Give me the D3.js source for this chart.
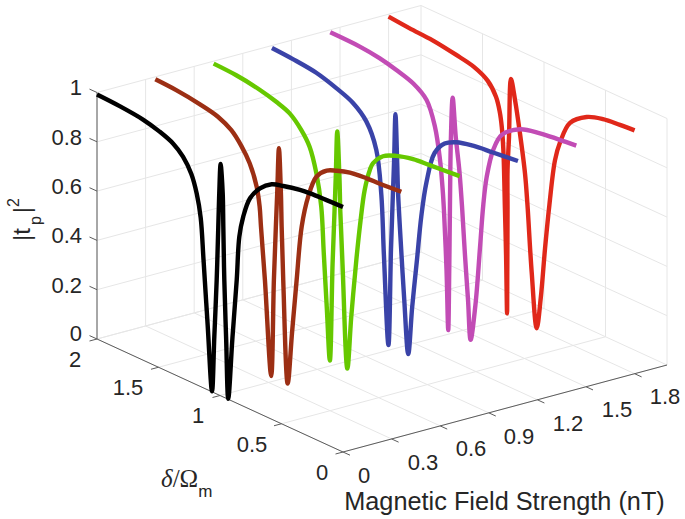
<!DOCTYPE html>
<html><head><meta charset="utf-8">
<script src="https://cdn.jsdelivr.net/npm/d3@7"></script>
<style>html,body{margin:0;padding:0;background:#fff}svg{display:block}text{font-family:"Liberation Sans",Arial,sans-serif;fill:#262626}</style>
</head><body><svg id="c" width="685" height="519"></svg>
<script>
const fieldValues=[0,0.36,0.72,1.08,1.44,1.8];
const seriesColors=["#000000","#9c2f14","#66c800","#3a43a8","#c24cb5","#e0281a"];
const fieldTicks=[0,0.3,0.6,0.9,1.2,1.5,1.8];
const detuningTicks=[0,0.5,1,1.5,2];
const transTicks=[0,0.2,0.4,0.6,0.8,1];

const delta0=[2,1.816,1.626,1.491,1.382,1.301,1.233,1.189,1.157,1.134,1.1,1.065,1.046,1.027,1.014,1.006,.995,.978,.973,.965,.95,.933,.899,.864,.843,.811,.756,.675,.58,.485,.35,.268,0];
const trans0=[.992,.987,.976,.958,.935,.9,.845,.775,.685,.52,.26,.002,.23,.462,.681,.82,.94,.826,.691,.477,.24,.002,.256,.5,.68,.769,.856,.915,.953,.968,.983,.988,.994];

const delta1=[2,1.83,1.64,1.491,1.382,1.301,1.233,1.176,1.152,1.141,1.109,1.058,1.036,1.02,1.009,.995,.979,.973,.96,.924,.888,.851,.81,.757,.689,.607,.526,.418,.282,.174,0];
const trans1=[.99,.985,.972,.955,.925,.88,.825,.743,.668,.589,.38,.002,.397,.617,.756,.941,.763,.628,.414,.002,.22,.439,.665,.799,.896,.939,.957,.974,.982,.985,.992];

const delta2=[2,1.816,1.626,1.491,1.382,1.287,1.22,1.165,1.125,1.105,1.08,1.055,1.033,1.017,1.007,.995,.977,.97,.952,.913,.881,.84,.805,.772,.73,.705,.623,.515,.379,.244,0];
const trans2=[.99,.985,.97,.952,.93,.884,.832,.737,.61,.43,.21,.002,.4,.62,.76,.945,.76,.625,.414,.002,.22,.459,.63,.759,.85,.882,.93,.956,.974,.981,.992];

const delta3=[2,1.83,1.64,1.477,1.341,1.233,1.152,1.111,1.09,1.053,1.032,1.017,1.007,.996,.982,.975,.955,.925,.892,.86,.821,.786,.745,.678,.596,.501,.366,.203,0];
const trans3=[.99,.984,.972,.947,.918,.868,.772,.6,.36,.002,.4,.62,.76,.951,.76,.64,.46,.22,.002,.2,.401,.585,.73,.867,.924,.951,.968,.978,.99];

const delta4=[2,1.76,1.6,1.46,1.325,1.217,1.149,1.108,1.086,1.076,1.055,1.041,1.033,1.03,1.027,1.024,1.019,1.005,.98,.951,.927,.905,.88,.859,.82,.783,.756,.728,.675,.607,.458,.295,.146,0];
const trans4=[.99,.987,.977,.96,.937,.895,.802,.677,.56,.481,.243,.002,.24,.37,.513,.654,.792,.953,.8,.672,.515,.338,.16,.004,.154,.394,.575,.696,.817,.893,.95,.971,.981,.989];

const delta5=[2,1.832,1.642,1.453,1.304,1.195,1.127,1.096,1.08,1.067,1.054,1.045,1.037,1.035,1.033,1.033,1.021,1.005,.972,.932,.891,.871,.837,.796,.763,.728,.693,.647,.606,.525,.39,.257,.119,0];
const trans5=[.99,.982,.976,.961,.945,.915,.865,.81,.754,.663,.423,.242,.007,.183,.427,.59,.727,.965,.887,.761,.608,.485,.222,.002,.132,.342,.525,.718,.8,.897,.952,.974,.982,.987];

const deltaSeries=[delta0,delta1,delta2,delta3,delta4,delta5];
const transSeries=[trans0,trans1,trans2,trans3,trans4,trans5];

const bx=d3.scaleLinear().domain([0,2]).range([343,667]);
const by=d3.scaleLinear().domain([0,2]).range([0,-87]);
const dx=d3.scaleLinear().domain([0,2]).range([0,-246]);
const dy=d3.scaleLinear().domain([0,2]).range([452,339]);
const zy=d3.scaleLinear().domain([0,1]).range([0,-246.5]);
const P=(b,d,z)=>[bx(b)+dx(d),dy(d)+by(b)+zy(z)];

const svg=d3.select("#c");
const seg=(a,b,col,w)=>svg.append("line").attr("x1",a[0]).attr("y1",a[1]).attr("x2",b[0]).attr("y2",b[1]).attr("stroke",col).attr("stroke-width",w);
const grid="#e6e6e6",axisCol="#5c5c5c";

fieldTicks.forEach(b=>{seg(P(b,0,0),P(b,2,0),grid,1);seg(P(b,2,0),P(b,2,1),grid,1);});
detuningTicks.forEach(d=>{seg(P(0,d,0),P(2,d,0),grid,1);seg(P(2,d,0),P(2,d,1),grid,1);});
transTicks.forEach(z=>{seg(P(0,2,z),P(2,2,z),grid,1);seg(P(2,2,z),P(2,0,z),grid,1);});

seg(P(0,0,0),P(2,0,0),axisCol,1);
seg(P(0,0,0),P(0,2,0),axisCol,1);
seg(P(0,2,0),P(0,2,1),axisCol,1);
fieldTicks.forEach(b=>{const a=P(b,0,0);seg(a,[a[0]+7,a[1]+3.2],axisCol,1);});
detuningTicks.forEach(d=>{const a=P(0,d,0);seg(a,[a[0]-7.5,a[1]+2],axisCol,1);});
transTicks.forEach(z=>{const a=P(0,2,z);seg(a,[a[0]-7.5,a[1]-3.4],axisCol,1);});

const line=d3.line().curve(d3.curveCatmullRom.alpha(0.5));
d3.range(fieldValues.length-1,-1,-1).forEach(i=>{
  const b=fieldValues[i];
  const pts=deltaSeries[i].map((d,j)=>P(b,d,transSeries[i][j]));
  svg.append("path").attr("d",line(pts)).attr("fill","none")
    .attr("stroke",seriesColors[i]).attr("stroke-width",4.4).attr("stroke-linejoin","round");
});

const label=(x,y,t,anchor)=>svg.append("text").attr("x",x).attr("y",y).attr("text-anchor",anchor||"middle")
  .attr("dominant-baseline","central").attr("font-size",22).text(t);
const zLabY=[333,285,235,186,137,87];
const zLabX=82;
transTicks.forEach((z,i)=>label(zLabX,zLabY[i],String(z),"end"));
const dLabPos=[[322,472],[252,444],[198,415],[128,387],[75,359]];
detuningTicks.forEach((d,i)=>label(dLabPos[i][0],dLabPos[i][1],String(d)));
const bLabPos=[[364,475],[423,462],[471,448],[519,436],[568,423],[617,409],[665,396]];
fieldTicks.forEach((b,i)=>label(bLabPos[i][0],bLabPos[i][1],String(b)));

svg.append("text").attr("x",504.5).attr("y",510).attr("text-anchor","middle").attr("font-size",25.3).text("Magnetic Field Strength (nT)");
const zt=svg.append("text").attr("transform","translate(29.5,241) rotate(-90)").attr("text-anchor","start").attr("font-size",24);
zt.append("tspan").text("|t");
zt.append("tspan").attr("font-size",16).attr("dx",3).attr("dy",11).text("p");
zt.append("tspan").attr("dx",3).attr("dy",-11).text("|");
zt.append("tspan").attr("font-size",16).attr("dy",-11).text("2");
const dt=svg.append("text").attr("x",161).attr("y",487).attr("font-size",25);
dt.append("tspan").style("font-family","'Liberation Serif',serif").style("font-style","italic").text("δ");
dt.append("tspan").style("font-family","'Liberation Serif',serif").text("/Ω");
dt.append("tspan").attr("font-size",17).attr("dy",10).text("m");
</script></body></html>
